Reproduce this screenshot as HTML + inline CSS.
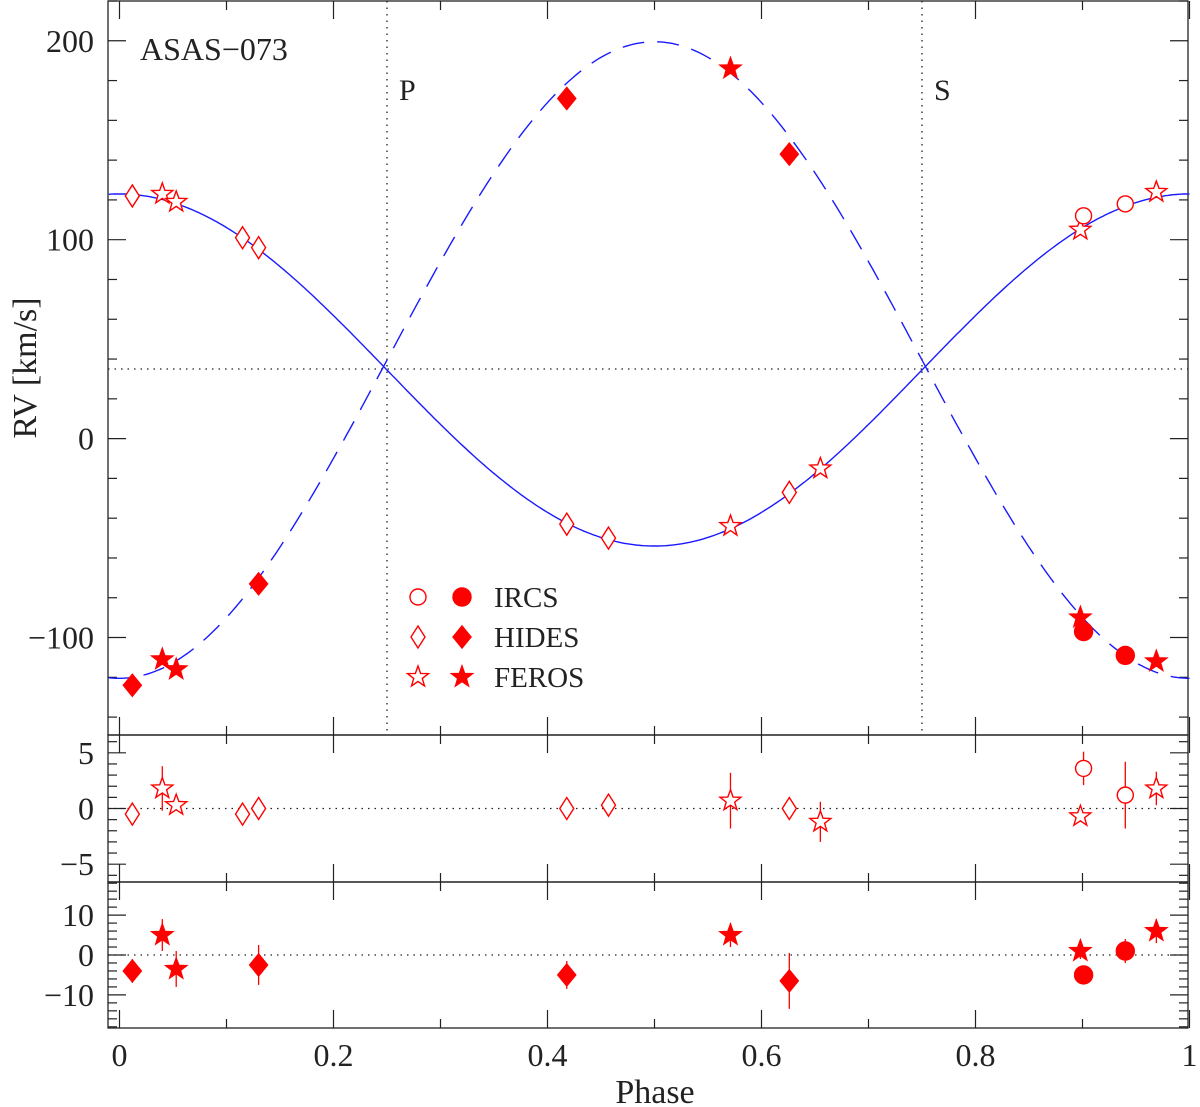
<!DOCTYPE html>
<html><head><meta charset="utf-8"><style>
body{margin:0;background:#fff}
svg{display:block}
text{font-family:"Liberation Serif",serif;fill:#222}
</style></head><body>
<svg id="c" width="1200" height="1107" viewBox="0 0 1200 1107"></svg>
<script>
// ----- data -----
const gamma1=34.5, K1=88.5, gamma2=39.5, K2=160;
const priDiaPh=[0.012,0.115,0.13,0.418,0.457,0.626];
const priDiaRV=[122,101,96,-43,-50,-27];
const priStarPh=[0.04,0.053,0.571,0.655,0.898,0.969];
const priStarRV=[123,119,-44,-15,105,124];
const priCircPh=[0.901,0.94];
const priCircRV=[112,118];
const secDiaPh=[0.012,0.13,0.418,0.626];
const secDiaRV=[-124,-73,171,143];
const secStarPh=[0.04,0.053,0.571,0.898,0.969];
const secStarRV=[-111,-116,186,-90,-112];
const secCircPh=[0.901,0.94];
const secCircRV=[-97,-109];
const res1DiaO=[-0.5,-0.5,0,0,0.3,0], res1DiaE=[0,0,0,0,0,0];
const res1StarO=[1.8,0.3,0.7,-1.2,-0.7,1.8], res1StarE=[2,0.5,2.5,1.8,0.5,1.5];
const res1CircO=[3.6,1.2], res1CircE=[1.5,3];
const res2DiaO=[-4,-2.5,-5,-6.5], res2DiaE=[3,5,3.5,7];
const res2StarO=[5,-3.5,5,1,6], res2StarE=[4,4.5,3,2,3];
const res2CircO=[-5,1], res2CircE=[2,3];
const xTicks=[0,0.2,0.4,0.6,0.8,1];
const xTickLabels=["0","0.2","0.4","0.6","0.8","1"];

const NS="http://www.w3.org/2000/svg";
const svg=document.getElementById('c');
function el(t,a,p){const e=document.createElementNS(NS,t);for(const k in a)e.setAttribute(k,a[k]);(p||svg).appendChild(e);return e;}
const X=p=>119.5+p*1070;
const L=108,R=1188;
const panels=[
 {top:1,bot:735,min:-149,max:220,major:100,minor:20,labels:[-100,0,100,200]},
 {top:735,bot:882,min:-6.6,max:6.6,major:5,minor:1,labels:[-5,0,5]},
 {top:882,bot:1028,min:-18.3,max:18.3,major:10,minor:2,labels:[-10,0,10]}
];
panels.forEach(p=>{p.Y=v=>p.bot-(v-p.min)/(p.max-p.min)*(p.bot-p.top);});
const [P0,P1,P2]=panels;

// frames and ticks
panels.forEach((p,i)=>{
 const f=el('rect',{x:L,y:p.top,width:R-L,height:p.bot-p.top,fill:'none',stroke:'#222','stroke-width':1.3});
 
 
 for(let v=Math.ceil(p.min/p.minor)*p.minor;v<=p.max;v+=p.minor){
  const vv=Math.round(v*1000)/1000;const maj=Math.abs(vv/p.major-Math.round(vv/p.major))<1e-6;
  const len=maj?18:9,y=p.Y(vv);
  el('line',{x1:L,x2:L+len,y1:y,y2:y,stroke:'#222','stroke-width':1.2});
  el('line',{x1:R,x2:R-len,y1:y,y2:y,stroke:'#222','stroke-width':1.2});
 }
 for(let k=0;k<=10;k++){
  const ph=k/10,x=X(ph),len=k%2==0?18:9;
  el('line',{x1:x,x2:x,y1:p.bot,y2:p.bot-len,stroke:'#222','stroke-width':1.2});
  el('line',{x1:x,x2:x,y1:p.top,y2:p.top+len,stroke:'#222','stroke-width':1.2});
 }
 p.labels.forEach(v=>{
  const t=el('text',{x:L-14,y:p.Y(v)+11,'text-anchor':'end','font-size':32});
  t.textContent=(v<0?'\u2212':'')+Math.abs(v);
  
  
 });
 // zero / gamma dotted lines
 const zy=i==0?p.Y(35):p.Y(0);
 const d=el('line',{x1:L,x2:R,y1:zy,y2:zy,stroke:'#222','stroke-width':1.3,'stroke-dasharray':'1.5 5'});
 
 
});
xTicks.forEach((ph,i)=>{
 const t=el('text',{x:X(ph),y:1066,'text-anchor':'middle','font-size':32});
 t.textContent=xTickLabels[i];
 
 
});
[[0.25,'P'],[0.75,'S']].forEach(([ph,s])=>{
 const l=el('line',{x1:X(ph),x2:X(ph),y1:P0.top,y2:P0.bot,stroke:'#222','stroke-width':1.3,'stroke-dasharray':'1.5 5'});
 
 
 const t=el('text',{x:X(ph)+12,y:100,'font-size':30});t.textContent=s;
 
 
});
let t=el('text',{x:140,y:60,'font-size':32});t.textContent='ASAS\u2212073';


t=el('text',{x:655,y:1103,'text-anchor':'middle','font-size':34});t.textContent='Phase';


t=el('text',{x:0,y:0,'text-anchor':'middle','font-size':34,transform:'translate(36,368) rotate(-90)'});t.textContent='RV [km/s]';



// curves
let d1='',d2='';
for(let k=0;k<=400;k++){const ph=-0.01+k*1.01/400;
 d1+=(k?'L':'M')+X(ph).toFixed(1)+','+P0.Y(gamma1+K1*Math.cos(2*Math.PI*ph)).toFixed(1);
 d2+=(k?'L':'M')+X(ph).toFixed(1)+','+P0.Y(gamma2-K2*Math.cos(2*Math.PI*ph)).toFixed(1);}
let c=el('path',{d:d1,fill:'none',stroke:'#1a1aff','stroke-width':1.4});


c=el('path',{d:d2,fill:'none',stroke:'#1a1aff','stroke-width':1.4,'stroke-dasharray':'22 13'});



// markers
const RED='#f00';
function marker(type,filled,x,y,name){
 const a={fill:filled?RED:'#fff',stroke:RED,'stroke-width':1.4};let m;
 if(type=='c'){m=el('circle',Object.assign({cx:x,cy:y,r:filled?9:8},a));}
 else if(type=='d'){m=el('polygon',Object.assign({points:`${x},${y-11} ${x+(filled?9:7)},${y} ${x},${y+11} ${x-(filled?9:7)},${y}`},a));}
 else{let pts=[];for(let i=0;i<10;i++){const r=i%2?4.5:11,an=-Math.PI/2+i*Math.PI/5;pts.push((x+r*Math.cos(an)).toFixed(1)+','+(y+r*Math.sin(an)).toFixed(1));}
  m=el('polygon',Object.assign({points:pts.join(' ')},a));}
 
 
 return m;
}
function errbar(x,y1,y2){const l=el('line',{x1:x,x2:x,y1:y1,y2:y2,stroke:RED,'stroke-width':1.3});
 
 }
function plot(P,ph,v,e,type,filled,name){
 ph.forEach((p,i)=>{const x=X(p),y=P.Y(v[i]);
  if(e&&e[i]>0)errbar(x,P.Y(v[i]-e[i]),P.Y(v[i]+e[i]));
  marker(type,filled,x,y,name);});
}
plot(P0,priDiaPh,priDiaRV,null,'d',false,'hides-primary-point');
plot(P0,priStarPh,priStarRV,null,'s',false,'feros-primary-point');
plot(P0,priCircPh,priCircRV,null,'c',false,'ircs-primary-point');
plot(P0,secDiaPh,secDiaRV,null,'d',true,'hides-secondary-point');
plot(P0,secStarPh,secStarRV,null,'s',true,'feros-secondary-point');
plot(P0,secCircPh,secCircRV,null,'c',true,'ircs-secondary-point');
plot(P1,priDiaPh,res1DiaO,res1DiaE,'d',false,'hides-primary-residual');
plot(P1,priStarPh,res1StarO,res1StarE,'s',false,'feros-primary-residual');
plot(P1,priCircPh,res1CircO,res1CircE,'c',false,'ircs-primary-residual');
plot(P2,secDiaPh,res2DiaO,res2DiaE,'d',true,'hides-secondary-residual');
plot(P2,secStarPh,res2StarO,res2StarE,'s',true,'feros-secondary-residual');
plot(P2,secCircPh,res2CircO,res2CircE,'c',true,'ircs-secondary-residual');

// legend
[['c','IRCS',597],['d','HIDES',637],['s','FEROS',677]].forEach(([ty,lab,y])=>{
 marker(ty,false,418,y,'legend-open-'+lab.toLowerCase());
 marker(ty,true,462,y,'legend-filled-'+lab.toLowerCase());
 const tt=el('text',{x:494,y:y+10,'font-size':29});tt.textContent=lab;
 
 
});
</script>
</body></html>
